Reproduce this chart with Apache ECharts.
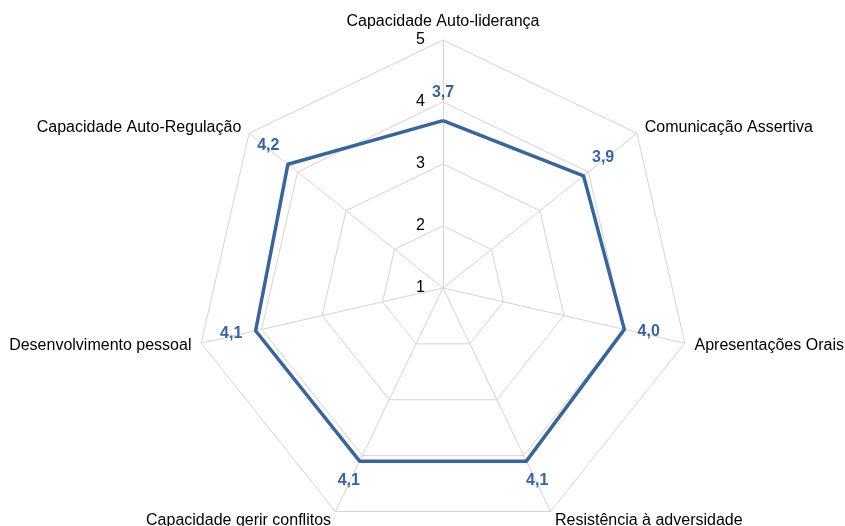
<!DOCTYPE html>
<html>
<head>
<meta charset="utf-8">
<script src="https://cdn.jsdelivr.net/npm/echarts@6/dist/echarts.min.js"></script>
<style>
html, body { margin: 0; padding: 0; background: #fff; }
#chart { width: 845px; height: 526px; }
</style>
</head>
<body>
<div id="chart"></div>
<script>
// clockwise from the top
var categories = ['Capacidade Auto-liderança', 'Comunicação Assertiva', 'Apresentações Orais',
    'Resistência à adversidade', 'Capacidade gerir conflitos', 'Desenvolvimento pessoal',
    'Capacidade Auto-Regulação'];
var values = [3.7, 3.9, 4.0, 4.1, 4.1, 4.1, 4.2];
var scaleTicks = [1, 2, 3, 4, 5];

var cx = 443, cy = 288, R = 248;
var blue = '#3a6599';
var font = 'Liberation Sans, Arial, sans-serif';

// radar goes counter-clockwise, so keep first and reverse the rest
var order = [0].concat(categories.map(function (c, i) { return i; }).slice(1).reverse());
var indicator = order.map(function (i) {
    return { name: categories[i], min: scaleTicks[0], max: scaleTicks[scaleTicks.length - 1] };
});
var radarValues = order.map(function (i) { return values[i]; });

// data labels pushed outwards from each vertex
var labelData = values.map(function (v, i) {
    var a = (90 - i * 360 / categories.length) * Math.PI / 180;
    var d = 25;
    return {
        value: [v, categories[i]],
        label: { offset: [d * Math.cos(a), -d * Math.sin(a) - 3] }
    };
});

var myChart = echarts.init(document.getElementById('chart'));
var option = {
    animation: false,
    radar: {
        center: [cx, cy],
        radius: R,
        startAngle: 90,
        splitNumber: scaleTicks.length - 1,
        shape: 'polygon',
        indicator: indicator,
        axisName: { color: '#000', fontSize: 16, fontFamily: font },
        nameGap: 10,
        axisLine: { lineStyle: { color: '#d4d4d4', width: 1 } },
        splitLine: { lineStyle: { color: '#d4d4d4', width: 1 } },
        splitArea: { show: false }
    },
    polar: { center: [cx, cy], radius: R },
    angleAxis: {
        type: 'category',
        data: categories,
        startAngle: 90,
        clockwise: true,
        boundaryGap: false,
        axisLine: { show: false },
        axisTick: { show: false },
        axisLabel: { show: false },
        splitLine: { show: false }
    },
    radiusAxis: {
        min: scaleTicks[0],
        max: scaleTicks[scaleTicks.length - 1],
        interval: 1,
        axisLine: { show: false },
        axisTick: { show: false },
        splitLine: { show: false },
        axisLabel: { color: '#000', fontSize: 16, fontFamily: font, margin: 18 }
    },
    series: [{
        type: 'radar',
        symbol: 'none',
        lineStyle: { color: blue, width: 3.5 },
        data: [{ value: radarValues }]
    }, {
        type: 'scatter',
        coordinateSystem: 'polar',
        symbolSize: 0,
        silent: true,
        itemStyle: { opacity: 1 },
        label: {
            show: true,
            position: 'inside',
            color: blue,
            opacity: 1,
            fontSize: 16,
            fontWeight: 'bold',
            fontFamily: font,
            formatter: function (p) { return p.value[0].toFixed(1).replace('.', ','); }
        },
        data: labelData
    }]
};
myChart.setOption(option);
</script>
</body>
</html>
